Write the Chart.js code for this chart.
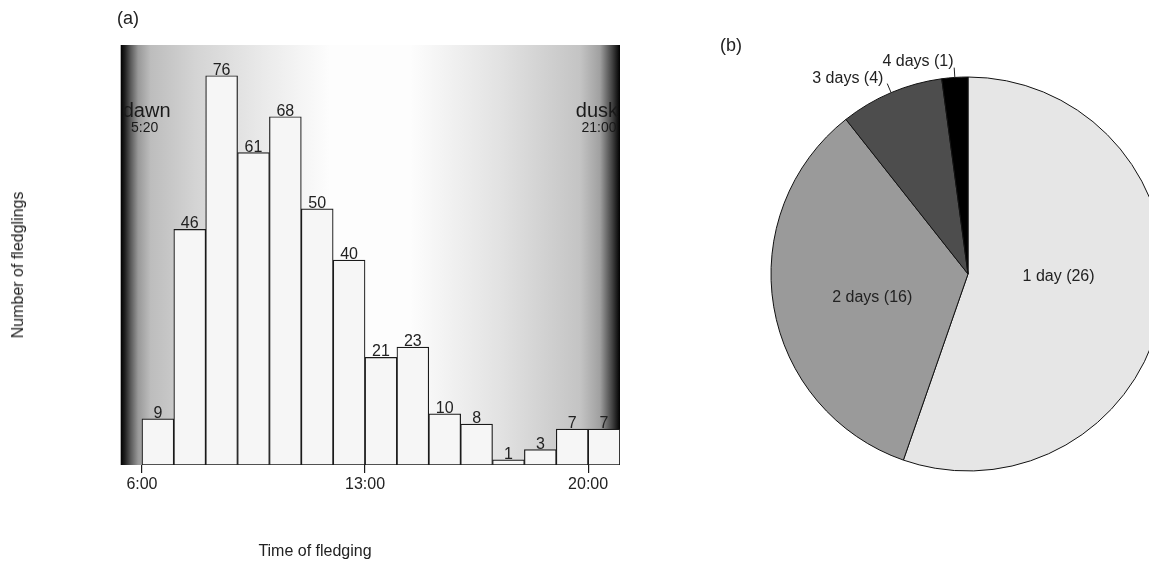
<!DOCTYPE html>
<html>
<head>
<meta charset="utf-8">
<script src="https://cdn.jsdelivr.net/npm/chart.js@4.4.0/dist/chart.umd.min.js"></script>
<style>
  html, body { margin: 0; padding: 0; width: 1149px; height: 579px; overflow: hidden; background: #fff; }
  body { position: relative; font-family: "Liberation Sans", Arial, sans-serif; color: #222; }
  #histCanvas { position: absolute; left: 0; top: 0; }
  #pieCanvas { position: absolute; left: 700px; top: 0; }
  .lbl { position: absolute; white-space: nowrap; }
</style>
</head>
<body>
<canvas id="histCanvas" width="660" height="579"></canvas>
<canvas id="pieCanvas" width="560" height="579"></canvas>
<div class="lbl" style="left:117px; top:8px; font-size:18px;">(a)</div>
<div class="lbl" style="left:720px; top:35px; font-size:18px;">(b)</div>
<div class="lbl" style="left:18px; top:265px; font-size:16px; transform: translate(-50%, -50%) rotate(-90deg);">Number of fledglings</div>
<div class="lbl" style="left:315px; top:551px; font-size:16px; transform: translate(-50%, -50%);">Time of fledging</div>
<script>
// 시간대별 이소 개체 수 (a)
const hourStarts = [6, 7, 8, 9, 10, 11, 12, 13, 14, 15, 16, 17, 18, 19, 20];
const fledglingCounts = [9, 46, 76, 61, 68, 50, 40, 21, 23, 10, 8, 1, 3, 7, 7];
const xTickHours = [6, 13, 20];
const dawnHour = 5 + 20 / 60;   // 5:20
const duskHour = 21;            // 21:00

// 이소 기간 (b)
const durationLabels = ['1 day (26)', '2 days (16)', '3 days (4)', '4 days (1)'];
const durationCounts = [26, 16, 4, 1];

const FONT = '"Liberation Sans", Arial, sans-serif';

// 새벽~황혼 배경 그라데이션
const daylightBg = {
    id: 'daylightBg',
    beforeDatasetsDraw(chart) {
        const { ctx, chartArea: a } = chart;
        const g = ctx.createLinearGradient(a.left, 0, a.right, 0);
        g.addColorStop(0, '#000');
        g.addColorStop(0.008, '#1e1e1e');
        g.addColorStop(0.02, '#5a5a5a');
        g.addColorStop(0.035, '#999');
        g.addColorStop(0.06, '#bdbdbd');
        g.addColorStop(0.15, '#d4d4d4');
        g.addColorStop(0.3, '#ececec');
        g.addColorStop(0.42, '#fdfdfd');
        g.addColorStop(0.58, '#fdfdfd');
        g.addColorStop(0.76, '#e2e2e2');
        g.addColorStop(0.92, '#c4c4c4');
        g.addColorStop(0.96, '#a0a0a0');
        g.addColorStop(0.985, '#404040');
        g.addColorStop(1, '#000');
        ctx.save();
        ctx.fillStyle = g;
        ctx.fillRect(a.left, a.top, a.right - a.left, a.bottom - a.top);

        ctx.fillStyle = '#1a1a1a';
        ctx.textBaseline = 'alphabetic';
        ctx.font = '20px ' + FONT;
        ctx.textAlign = 'left';
        ctx.fillText('dawn', a.left + 2, 117);
        ctx.font = '14px ' + FONT;
        ctx.textAlign = 'center';
        ctx.fillText('5:20', a.left + 24, 132);
        ctx.font = '20px ' + FONT;
        ctx.textAlign = 'right';
        ctx.fillText('dusk', a.right - 2, 117);
        ctx.font = '14px ' + FONT;
        ctx.textAlign = 'center';
        ctx.fillText('21:00', a.right - 21, 132);
        ctx.restore();
    }
};

// 막대 위 숫자 표시
const barValues = {
    id: 'barValues',
    afterDatasetsDraw(chart) {
        const { ctx } = chart;
        const meta = chart.getDatasetMeta(0);
        ctx.save();
        ctx.fillStyle = '#222';
        ctx.font = '16px ' + FONT;
        ctx.textAlign = 'center';
        ctx.textBaseline = 'alphabetic';
        meta.data.forEach((bar, i) => {
            ctx.fillText(String(fledglingCounts[i]), bar.x, bar.y - 1);
        });
        ctx.restore();
    }
};

new Chart(document.getElementById('histCanvas'), {
    type: 'bar',
    data: {
        datasets: [{
            data: hourStarts.map((h, i) => ({ x: h + 0.5, y: fledglingCounts[i] })),
            backgroundColor: '#f6f6f6',
            borderColor: '#1a1a1a',
            borderWidth: 1.2,
            borderSkipped: false,
            barPercentage: 1,
            categoryPercentage: 1
        }]
    },
    options: {
        responsive: false,
        animation: false,
        layout: { padding: { left: 120.7, right: 40, top: 45, bottom: 74 } },
        plugins: { legend: { display: false }, tooltip: { enabled: false } },
        scales: {
            x: {
                type: 'linear',
                min: dawnHour,
                max: duskHour,
                offset: false,
                afterBuildTicks: s => { s.ticks = xTickHours.map(v => ({ value: v })); },
                afterFit: s => { s.height = 40; },
                border: { display: false },
                grid: { display: true, offset: false, drawOnChartArea: false, drawTicks: true, tickLength: 8, color: '#1a1a1a', lineWidth: 1.2 },
                ticks: { callback: v => v + ':00', font: { family: FONT, size: 16 }, color: '#222', padding: 2, maxRotation: 0, autoSkip: false }
            },
            y: { display: false, min: 0, max: 82 }
        }
    },
    plugins: [daylightBg, barValues]
});

// 파이 라벨: 안쪽 두 개, 바깥 두 개 (지시선 포함)
const pieLabelRadius = [0.46, 0.5, 1.1, 1.1];
const pieLabelNudge = [-7.7, -4, 0, 0];

const pieLabels = {
    id: 'pieLabels',
    afterDatasetsDraw(chart) {
        const { ctx } = chart;
        const meta = chart.getDatasetMeta(0);
        ctx.save();
        ctx.font = '16px ' + FONT;
        ctx.fillStyle = '#222';
        ctx.strokeStyle = '#222';
        ctx.lineWidth = 1;
        ctx.textBaseline = 'middle';
        meta.data.forEach((arc, i) => {
            const r = arc.outerRadius;
            const mid = (arc.startAngle + arc.endAngle) / 2 + pieLabelNudge[i] * Math.PI / 180;
            const cx = Math.cos(mid), cy = Math.sin(mid);
            const f = pieLabelRadius[i];
            let dy = 0;
            if (f > 1) {
                ctx.beginPath();
                ctx.moveTo(arc.x + cx * r, arc.y + cy * r);
                ctx.lineTo(arc.x + cx * r * 1.05, arc.y + cy * r * 1.05);
                ctx.stroke();
                ctx.textAlign = cx < 0 ? 'right' : 'left';
                dy = 4;
            } else {
                ctx.textAlign = 'center';
            }
            ctx.fillText(durationLabels[i], arc.x + cx * r * f, arc.y + cy * r * f + dy);
        });
        ctx.restore();
    }
};

new Chart(document.getElementById('pieCanvas'), {
    type: 'pie',
    data: {
        labels: durationLabels,
        datasets: [{
            data: durationCounts,
            backgroundColor: ['#e6e6e6', '#9a9a9a', '#4d4d4d', '#000000'],
            borderColor: '#111',
            borderWidth: 1
        }]
    },
    options: {
        responsive: false,
        animation: false,
        layout: { padding: { left: 69.5, right: 93.5, top: 76.5, bottom: 107.5 } },
        plugins: { legend: { display: false }, tooltip: { enabled: false } }
    },
    plugins: [pieLabels]
});
</script>
</body>
</html>
